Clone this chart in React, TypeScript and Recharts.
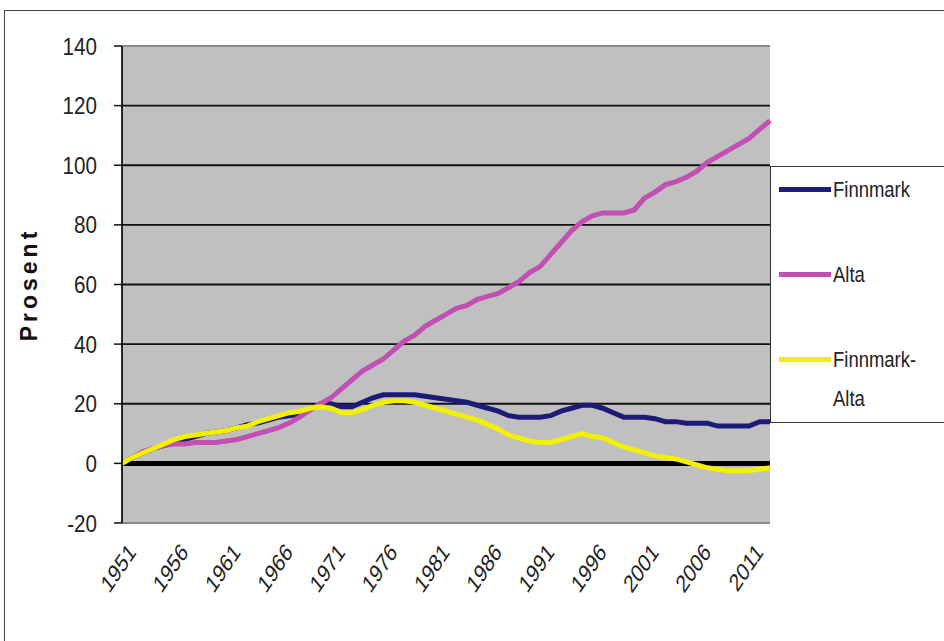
import React from 'react';
import { LineChart, Line, XAxis, YAxis, CartesianGrid, ReferenceLine, Legend } from 'recharts';

const years = [
  1951, 1952, 1953, 1954, 1955, 1956, 1957, 1958, 1959, 1960,
  1961, 1962, 1963, 1964, 1965, 1966, 1967, 1968, 1969, 1970,
  1971, 1972, 1973, 1974, 1975, 1976, 1977, 1978, 1979, 1980,
  1981, 1982, 1983, 1984, 1985, 1986, 1987, 1988, 1989, 1990,
  1991, 1992, 1993, 1994, 1995, 1996, 1997, 1998, 1999, 2000,
  2001, 2002, 2003, 2004, 2005, 2006, 2007, 2008, 2009, 2010,
  2011, 2012, 2013,
];

const finnmark = [
  0, 2, 3.5, 5, 6, 7, 8, 9, 10, 10.5,
  11, 12, 13, 13.5, 14.5, 15.5, 16, 16.5, 18, 20,
  20, 19, 19, 20.5, 22, 23, 23, 23, 23, 22.5,
  22, 21.5, 21, 20.5, 19.5, 18.5, 17.5, 16, 15.5, 15.5,
  15.5, 16, 17.5, 18.5, 19.5, 19.5, 18.5, 17, 15.5, 15.5,
  15.5, 15, 14, 14, 13.5, 13.5, 13.5, 12.5, 12.5, 12.5,
  12.5, 14, 14,
];

const alta = [
  0, 2, 4, 5, 6, 6.5, 6.5, 7, 7, 7,
  7.5, 8, 9, 10, 11, 12, 13.5, 15.5, 18, 20,
  22, 25, 28, 31, 33, 35, 38, 41, 43, 46,
  48, 50, 52, 53, 55, 56, 57, 59, 61, 64,
  66, 70, 74, 78, 81, 83, 84, 84, 84, 85,
  89, 91, 93.5, 94.5, 96, 98, 101, 103, 105, 107,
  109, 112, 115,
];

const finnmarkAlta = [
  0, 2, 3.5, 5, 6.5, 8, 9, 9.5, 10, 10.5,
  11, 12, 12.5, 14, 15, 16, 17, 17.5, 18.5, 19,
  18.5, 17, 17, 18, 19.5, 20.5, 21, 21, 20.5, 19.5,
  18.5, 17.5, 16.5, 15.5, 14.5, 13, 11.5, 9.5, 8.5, 7.5,
  7, 7, 8, 9, 10, 9, 8.5, 7, 5.5, 4.5,
  3.5, 2.5, 2, 1.5, 0.5, -0.5, -1.5, -2, -2.5, -2.5,
  -2.5, -2, -1.5,
];

const yTicks = [-20, 0, 20, 40, 60, 80, 100, 120, 140];
const seriesNames = ['Finnmark', 'Alta', 'Finnmark-Alta'];
const axisTitle = 'Prosent';

const COLORS = { finnmark: '#1c1c78', alta: '#c24fb3', finnmarkAlta: '#f2f200' };
const FONT = '"Liberation Sans", Arial, sans-serif';

const data = years.map((y, i) => ({
  year: String(y),
  finnmark: finnmark[i],
  alta: alta[i],
  finnmarkAlta: finnmarkAlta[i],
}));

const YTick = (props: any) => {
  const { x, y, payload } = props;
  return (
    <g transform={`translate(${x - 15},${y + 8.5})`}>
      <text transform="scale(0.86,1)" textAnchor="end" fontFamily={FONT} fontSize={24} fill="#222">
        {payload.value}
      </text>
    </g>
  );
};

const XTick = (props: any) => {
  const { x, payload } = props;
  return (
    <g transform={`translate(${x + 5},${541}) scale(0.75,1) rotate(-48)`}>
      <text textAnchor="end" fontFamily={FONT} fontSize={25} fill="#222" dy={18}>
        {payload.value}
      </text>
    </g>
  );
};

const legendItems = [
  { key: 'finnmark', label: ['Finnmark'], color: COLORS.finnmark, top: 22 },
  { key: 'alta', label: ['Alta'], color: COLORS.alta, top: 107 },
  { key: 'finnmarkAlta', label: ['Finnmark-', 'Alta'], color: COLORS.finnmarkAlta, top: 192 },
];

const LegendContent = () => (
  <div
    style={{
      position: 'relative',
      width: 220,
      height: 257,
      borderTop: '1.5px solid #333',
      borderBottom: '1.5px solid #333',
      borderLeft: '1.5px solid #333',
      background: '#fff',
      fontFamily: FONT,
      boxSizing: 'border-box',
    }}
  >
    {legendItems.map((it) => (
      <div key={it.key} style={{ position: 'absolute', left: 8, top: it.top - 13 }}>
        <div style={{ position: 'absolute', left: 0, top: 11, width: 52, height: 5, background: it.color }} />
        <div
          style={{
            position: 'absolute',
            left: 54,
            top: 0,
            fontSize: 22,
            lineHeight: '39px',
            color: '#222',
            transform: 'scale(0.84,1)',
            transformOrigin: 'left top',
            whiteSpace: 'nowrap',
            marginTop: -6,
          }}
        >
          {it.label.map((l, j) => (
            <div key={j}>{l}</div>
          ))}
        </div>
      </div>
    ))}
  </div>
);

export default function App() {
  return (
    <div style={{ position: 'fixed', left: 0, top: 0, width: 944, height: 641, overflow: 'hidden', background: '#fff' }}>
      <div style={{ position: 'absolute', left: 0, top: 0 }}>
        <LineChart width={944} height={641} data={data} margin={{ top: 46, right: 174, bottom: 0, left: 0 }}>
          <CartesianGrid vertical={false} stroke="#111" strokeWidth={1.8} fill="#c0c0c0" fillOpacity={1} />
          <XAxis
            dataKey="year"
            interval={4}
            axisLine={false}
            tickLine={false}
            tick={<XTick />}
            height={118}
          />
          <YAxis
            width={122}
            domain={[-20, 140]}
            ticks={yTicks}
            interval={0}
            axisLine={{ stroke: '#111', strokeWidth: 1.8 }}
            tickLine={{ stroke: '#111', strokeWidth: 1.5 }}
            tickSize={8}
            tick={<YTick />}
            label={{
              value: axisTitle,
              angle: -90,
              position: 'insideLeft',
              dx: 24,
              style: { fontFamily: FONT, fontWeight: 'bold', fontSize: 23, letterSpacing: 4, fill: '#111', textAnchor: 'middle' },
            }}
          />
          <ReferenceLine y={140} stroke="#8a8a8a" strokeWidth={2} />
          <ReferenceLine y={-20} stroke="#8a8a8a" strokeWidth={2} />
          <ReferenceLine y={0} stroke="#000" strokeWidth={5} />
          <Line
            type="linear"
            dataKey="finnmark"
            name={seriesNames[0]}
            stroke={COLORS.finnmark}
            strokeWidth={5}
            dot={false}
            isAnimationActive={false}
          />
          <Line
            type="linear"
            dataKey="alta"
            name={seriesNames[1]}
            stroke={COLORS.alta}
            strokeWidth={5}
            dot={false}
            isAnimationActive={false}
          />
          <Line
            type="linear"
            dataKey="finnmarkAlta"
            name={seriesNames[2]}
            stroke={COLORS.finnmarkAlta}
            strokeWidth={5}
            dot={false}
            isAnimationActive={false}
          />
          <Legend
            layout="vertical"
            align="center"
            verticalAlign="middle"
            content={<LegendContent />}
            wrapperStyle={{ left: 770, top: 166, width: 220, height: 257 }}
          />
        </LineChart>
      </div>
      <div
        style={{
          position: 'absolute',
          left: 4,
          top: 10,
          width: 1000,
          height: 700,
          border: '1.5px solid #444',
          pointerEvents: 'none',
        }}
      />
    </div>
  );
}
